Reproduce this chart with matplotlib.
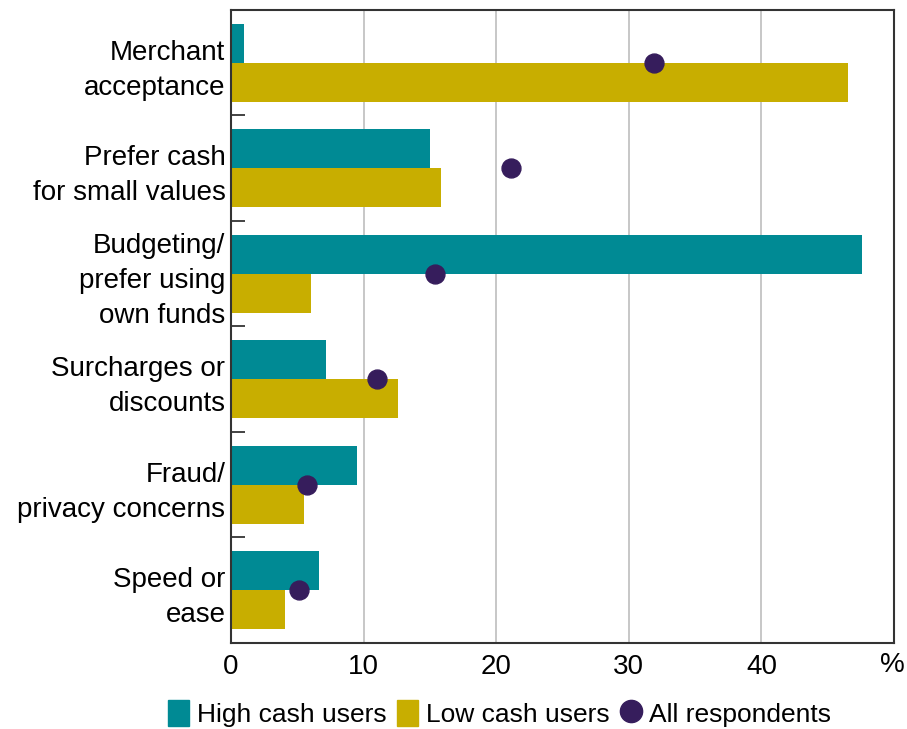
import numpy as np
import matplotlib.pyplot as plt
from matplotlib.lines import Line2D
from matplotlib.patches import Patch

plt.rcParams['font.family'] = ['Liberation Sans', 'DejaVu Sans']

categories = ['Merchant\nacceptance', 'Prefer cash\nfor small values',
              'Budgeting/\nprefer using\nown funds', 'Surcharges or\ndiscounts',
              'Fraud/\nprivacy concerns', 'Speed or\nease']
high_cash = [1.0, 15.0, 47.6, 7.2, 9.5, 6.6]
low_cash = [46.5, 15.8, 6.0, 12.6, 5.5, 4.1]
all_resp = [31.9, 21.1, 15.4, 11.0, 5.7, 5.1]
x_ticks = [0, 10, 20, 30, 40]

teal = '#008A94'
gold = '#C8AE00'
purple = '#361D5C'

fig = plt.figure(figsize=(9.07, 7.29), dpi=100)
ax = fig.add_axes([0.2547, 0.118, 0.731, 0.8683])

y = np.arange(len(categories))
h = 0.37
ax.barh(y - h / 2, high_cash, height=h, color=teal, zorder=2)
ax.barh(y + h / 2, low_cash, height=h, color=gold, zorder=2)
ax.scatter(all_resp, y, s=185, color=purple, zorder=3)

ax.set_xlim(0, 50)
ax.set_ylim(len(categories) - 0.5, -0.5)
ax.set_xticks(x_ticks)
ax.set_xticklabels([str(t) for t in x_ticks], fontsize=20)
ax.tick_params(axis='x', length=0, pad=8)
ax.xaxis.grid(True, color='#BDBDBD', linewidth=1.2, zorder=0)

ax.set_yticks(y)
ax.set_yticklabels(categories, fontsize=20, linespacing=1.45)
ax.tick_params(axis='y', which='major', length=0, pad=4)
ax.set_yticks(np.arange(0.5, len(categories) - 0.5, 1), minor=True)
ax.tick_params(axis='y', which='minor', direction='in', length=10,
               width=1.2, color='#222222')

for s in ax.spines.values():
    s.set_color('#333333')
    s.set_linewidth(1.5)

ax.text(0.998, -0.014, '%', transform=ax.transAxes, ha='center', va='top',
        fontsize=20)

handles = [Patch(color=teal, label='High cash users'),
           Patch(color=gold, label='Low cash users'),
           Line2D([], [], marker='o', linestyle='none', markersize=16,
                  color=purple, label='All respondents')]
fig.legend(handles=handles, loc='center', bbox_to_anchor=(0.551, 0.021),
           ncol=3, frameon=False, fontsize=19, handlelength=0.8,
           handleheight=1.1, handletextpad=0.3, columnspacing=0.4)

fig.savefig('out.png', dpi=100)
